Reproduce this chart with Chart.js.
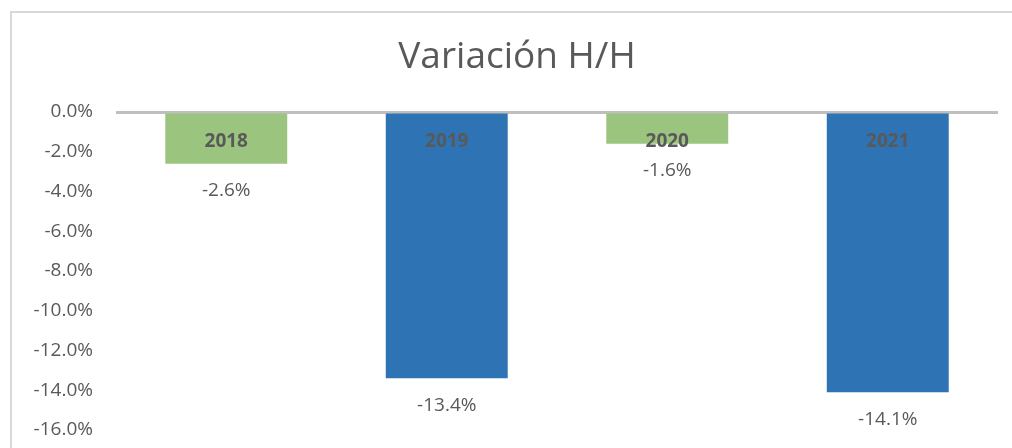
<!DOCTYPE html>
<html>
<head>
<meta charset="utf-8">
<script src="https://cdn.jsdelivr.net/npm/chart.js@4"></script>
<style>
    html, body { margin: 0; padding: 0; background: #fff; }
    #wrap { width: 1012px; height: 448px; position: relative; }
</style>
</head>
<body>
<div id="wrap"><canvas id="variation-chart"></canvas></div>
<script>
// ===== DATA =====
const chartTitle = 'Variación H/H';
const years = ['2018', '2019', '2020', '2021'];
const variation = [-2.6, -13.4, -1.6, -14.1];
const barColors = ['#9bc47e', '#2e74b5', '#9bc47e', '#2e74b5'];
const yTicks = [0, -2, -4, -6, -8, -10, -12, -14, -16];

const TEXT_COLOR = '#595959';
const FONT = '"Open Sans", "Noto Sans", sans-serif';

// frame round the chart + title (Excel centres the title a bit right of the canvas middle)
const framePlugin = {
    id: 'frame',
    beforeDraw(chart) {
        const c = chart.ctx;
        c.save();
        c.strokeStyle = '#d9d9d9';
        c.lineWidth = 2;
        c.beginPath();
        c.moveTo(11, chart.height + 5);
        c.lineTo(11, 12);
        c.lineTo(chart.width + 5, 12);
        c.stroke();

        c.fillStyle = TEXT_COLOR;
        c.font = '37px ' + FONT;
        c.textAlign = 'center';
        c.textBaseline = 'middle';
        c.fillText(chartTitle, 517, 57);
        c.restore();
    }
};

// year inside the bar, value under the bar
const barLabels = {
    id: 'barLabels',
    afterDatasetsDraw(chart) {
        const c = chart.ctx;
        const meta = chart.getDatasetMeta(0);
        const yScale = chart.scales.y;
        c.save();
        c.fillStyle = TEXT_COLOR;
        c.textAlign = 'center';
        c.textBaseline = 'middle';
        meta.data.forEach((bar, i) => {
            c.font = 'bold 19px ' + FONT;
            c.fillText(years[i], bar.x, yScale.getPixelForValue(0) + 30);
            c.font = '19px ' + FONT;
            c.fillText(variation[i].toFixed(1) + '%', bar.x, bar.y + 27);
        });
        c.restore();
    }
};

const ctx = document.getElementById('variation-chart');

new Chart(ctx, {
    type: 'bar',
    data: {
        labels: years,
        datasets: [{
            label: chartTitle,
            data: variation,
            backgroundColor: barColors,
            borderWidth: 0,
            barPercentage: 0.553,
            categoryPercentage: 1
        }]
    },
    options: {
        responsive: true,
        maintainAspectRatio: false,
        animation: false,
        layout: { padding: { top: 112, right: 14, bottom: 18, left: 0 } },
        plugins: {
            legend: { display: false },
            tooltip: { enabled: false },
            title: { display: false }
        },
        scales: {
            x: { display: false },
            y: {
                min: -16, max: 0,
                afterFit: (scale) => { scale.width = 116; },
                afterBuildTicks: (scale) => { scale.ticks = yTicks.map(v => ({ value: v })); },
                border: { display: false },
                grid: {
                    drawTicks: true,
                    tickLength: 23,
                    tickColor: 'rgba(0,0,0,0)',
                    color: (c) => c.tick && c.tick.value === 0 ? '#bfbfbf' : 'rgba(0,0,0,0)',
                    lineWidth: 3
                },
                ticks: {
                    color: TEXT_COLOR,
                    padding: 0,
                    font: { family: FONT, size: 19 },
                    callback: (v) => v.toFixed(1) + '%'
                }
            }
        }
    },
    plugins: [framePlugin, barLabels]
});
</script>
</body>
</html>
